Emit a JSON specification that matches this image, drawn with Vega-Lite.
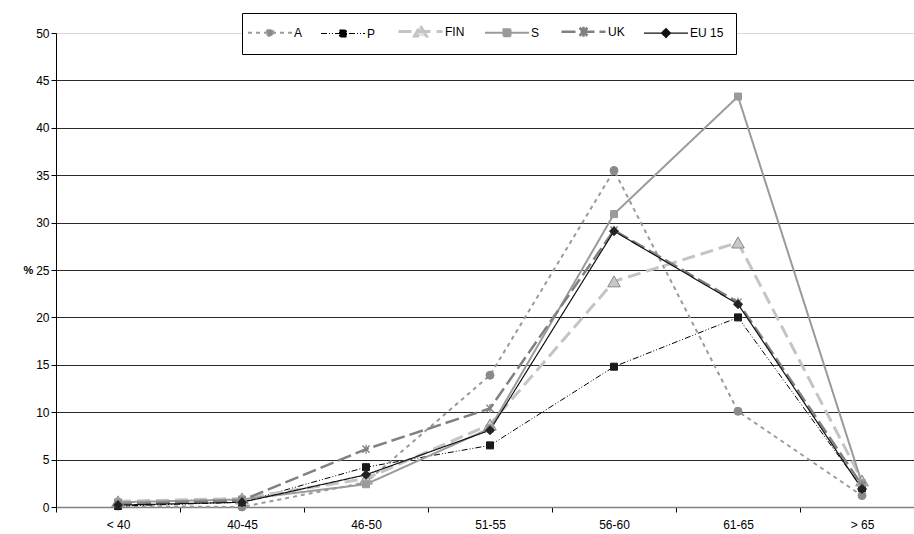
{
  "$schema": "https://vega.github.io/schema/vega-lite/v6.json",
  "autosize": {"type": "none"},
  "padding": {"left": 56, "top": 33, "right": 0, "bottom": 27},
  "width": 858,
  "height": 474,
  "background": "#ffffff",
  "config": {
    "view": {"stroke": null},
    "font": "Liberation Sans",
    "axis": {"labelFont": "Liberation Sans", "labelFontSize": 12, "labelColor": "#000000"}
  },
  "data": {
    "values": [
      {"country": "A", "age": "< 40", "pct": 0.1},
      {"country": "A", "age": "40-45", "pct": 0.0},
      {"country": "A", "age": "46-50", "pct": 2.6},
      {"country": "A", "age": "51-55", "pct": 13.9},
      {"country": "A", "age": "56-60", "pct": 35.5},
      {"country": "A", "age": "61-65", "pct": 10.1},
      {"country": "A", "age": "> 65", "pct": 1.2},
      {"country": "P", "age": "< 40", "pct": 0.1},
      {"country": "P", "age": "40-45", "pct": 0.5},
      {"country": "P", "age": "46-50", "pct": 4.2},
      {"country": "P", "age": "51-55", "pct": 6.5},
      {"country": "P", "age": "56-60", "pct": 14.8},
      {"country": "P", "age": "61-65", "pct": 20.0},
      {"country": "P", "age": "> 65", "pct": 2.0},
      {"country": "FIN", "age": "< 40", "pct": 0.6},
      {"country": "FIN", "age": "40-45", "pct": 0.9},
      {"country": "FIN", "age": "46-50", "pct": 3.0},
      {"country": "FIN", "age": "51-55", "pct": 8.7},
      {"country": "FIN", "age": "56-60", "pct": 23.8},
      {"country": "FIN", "age": "61-65", "pct": 27.9},
      {"country": "FIN", "age": "> 65", "pct": 2.8},
      {"country": "S", "age": "< 40", "pct": 0.5},
      {"country": "S", "age": "40-45", "pct": 0.8},
      {"country": "S", "age": "46-50", "pct": 2.4},
      {"country": "S", "age": "51-55", "pct": 8.3},
      {"country": "S", "age": "56-60", "pct": 30.9},
      {"country": "S", "age": "61-65", "pct": 43.3},
      {"country": "S", "age": "> 65", "pct": 2.5},
      {"country": "UK", "age": "< 40", "pct": 0.3},
      {"country": "UK", "age": "40-45", "pct": 0.7},
      {"country": "UK", "age": "46-50", "pct": 6.1},
      {"country": "UK", "age": "51-55", "pct": 10.4},
      {"country": "UK", "age": "56-60", "pct": 29.2},
      {"country": "UK", "age": "61-65", "pct": 21.6},
      {"country": "UK", "age": "> 65", "pct": 2.3},
      {"country": "EU 15", "age": "< 40", "pct": 0.2},
      {"country": "EU 15", "age": "40-45", "pct": 0.5},
      {"country": "EU 15", "age": "46-50", "pct": 3.4},
      {"country": "EU 15", "age": "51-55", "pct": 8.1},
      {"country": "EU 15", "age": "56-60", "pct": 29.1},
      {"country": "EU 15", "age": "61-65", "pct": 21.4},
      {"country": "EU 15", "age": "> 65", "pct": 1.9}
    ]
  },
  "encoding": {
    "x": {
      "field": "age",
      "type": "ordinal",
      "sort": ["< 40", "40-45", "46-50", "51-55", "56-60", "61-65", "> 65"],
      "scale": {"type": "band", "range": [0, 868], "paddingInner": 0, "paddingOuter": 0},
      "axis": {
        "title": null,
        "labelAngle": 0,
        "tickBand": "extent",
        "domainColor": "#808080",
        "domainWidth": 1.5,
        "tickColor": "#000000",
        "tickSize": 5,
        "labelPadding": 7,
        "labelDx": -14,
        "grid": false
      }
    },
    "y": {
      "field": "pct",
      "type": "quantitative",
      "scale": {"domain": [0, 50], "nice": false},
      "axis": {
        "title": "%",
        "titleAngle": 0,
        "titleFont": "Liberation Sans",
        "titleFontSize": 11,
        "titleFontWeight": "bold",
        "titleX": -28,
        "titleY": 237,
        "titleAlign": "center",
        "titleBaseline": "middle",
        "values": [0, 5, 10, 15, 20, 25, 30, 35, 40, 45, 50],
        "domainColor": "#000000",
        "tickColor": "#000000",
        "tickSize": 5,
        "labelPadding": 2,
        "grid": true,
        "gridColor": {"condition": {"test": "datum.value === 50", "value": "#d9d9d9"}, "value": "#2a2a2a"},
        "gridWidth": 1
      }
    }
  },
  "layer": [
    {
      "mark": {"type": "line"},
      "encoding": {
        "color": {
          "field": "country",
          "type": "nominal",
          "scale": {
            "domain": ["A", "P", "FIN", "S", "UK", "EU 15"],
            "range": ["#9a9a9a", "#000000", "#c4c4c4", "#9a9a9a", "#808080", "#111111"]
          },
          "legend": {
            "orient": "none",
            "legendX": 186,
            "legendY": -20,
            "direction": "horizontal",
            "title": null,
            "padding": 12,
            "strokeColor": "#000000",
            "fillColor": "#ffffff",
            "symbolSize": 100,
            "labelOffset": 28,
            "columnPadding": 16,
            "labelFont": "Liberation Sans",
            "labelFontSize": 12,
            "labelColor": "#000000",
            "encode": {
              "symbols": {
                "update": {
                  "shape": {"signal": "{'A': 'M-2.4,0H6.4M1.3,0A0.7,0.7,0,1,1,2.7,0A0.7,0.7,0,1,1,1.3,0Z', 'P': 'M-2.4,0H6.4M1.3,-0.7H2.7V0.7H1.3Z', 'FIN': 'M-2.4,0H6.4M2,-1.1L3.2,0.9H0.8Z', 'S': 'M-2.4,0H6.4M1.3,-0.7H2.7V0.7H1.3Z', 'UK': 'M-2.4,0H6.4M1.2,-0.8L2.8,0.8M1.2,0.8L2.8,-0.8M2,-1V1', 'EU 15': 'M-2.4,0H6.4M2,-0.9L2.9,0L2,0.9L1.1,0Z'}[datum.value]"},
                  "strokeWidth": {"signal": "{'A': 2, 'P': 1.5, 'FIN': 3, 'S': 2, 'UK': 2.5, 'EU 15': 1.2}[datum.value]"},
                  "fill": {"signal": "{'A': '#8a8a8a', 'P': '#000000', 'FIN': '#e0e0e0', 'S': '#9a9a9a', 'UK': 'transparent', 'EU 15': '#111111'}[datum.value]"},
                  "opacity": {"value": 1}
                }
              }
            }
          }
        },
        "strokeDash": {
          "field": "country",
          "type": "nominal",
          "scale": {
            "domain": ["A", "P", "FIN", "S", "UK", "EU 15"],
            "range": [[4, 4], [6, 2, 1, 2, 1, 2], [13, 6], [1, 0], [14, 5], [1, 0]]
          },
          "legend": null
        },
        "strokeWidth": {
          "field": "country",
          "type": "nominal",
          "scale": {
            "type": "ordinal",
            "domain": ["A", "P", "FIN", "S", "UK", "EU 15"],
            "range": [2, 1, 3, 2, 2.5, 1.2]
          },
          "legend": null
        }
      }
    },
    {
      "transform": [{"filter": "datum.country === 'A'"}],
      "mark": {"type": "point", "shape": "circle", "filled": true, "opacity": 1, "fill": "#8a8a8a", "stroke": "#8a8a8a", "strokeWidth": 1, "size": 64}
    },
    {
      "transform": [{"filter": "datum.country === 'P'"}],
      "mark": {"type": "point", "shape": "square", "filled": true, "opacity": 1, "fill": "#1a1a1a", "stroke": "#1a1a1a", "strokeWidth": 1, "size": 49}
    },
    {
      "transform": [{"filter": "datum.country === 'FIN'"}],
      "mark": {"type": "point", "shape": "triangle-up", "filled": true, "opacity": 1, "fill": "#c8c8c8", "stroke": "#8a8a8a", "strokeWidth": 1, "size": 160}
    },
    {
      "transform": [{"filter": "datum.country === 'S'"}],
      "mark": {"type": "point", "shape": "square", "filled": true, "opacity": 1, "fill": "#9a9a9a", "stroke": "#9a9a9a", "strokeWidth": 1, "size": 49}
    },
    {
      "transform": [{"filter": "datum.country === 'UK'"}],
      "mark": {"type": "point", "shape": "M-0.8,-0.8L0.8,0.8M-0.8,0.8L0.8,-0.8M0,-1V1", "filled": false, "opacity": 1, "stroke": "#808080", "strokeWidth": 1.3, "size": 81}
    },
    {
      "transform": [{"filter": "datum.country === 'EU 15'"}],
      "mark": {"type": "point", "shape": "diamond", "filled": true, "opacity": 1, "fill": "#222222", "stroke": "#222222", "strokeWidth": 1, "size": 81}
    }
  ]
}
